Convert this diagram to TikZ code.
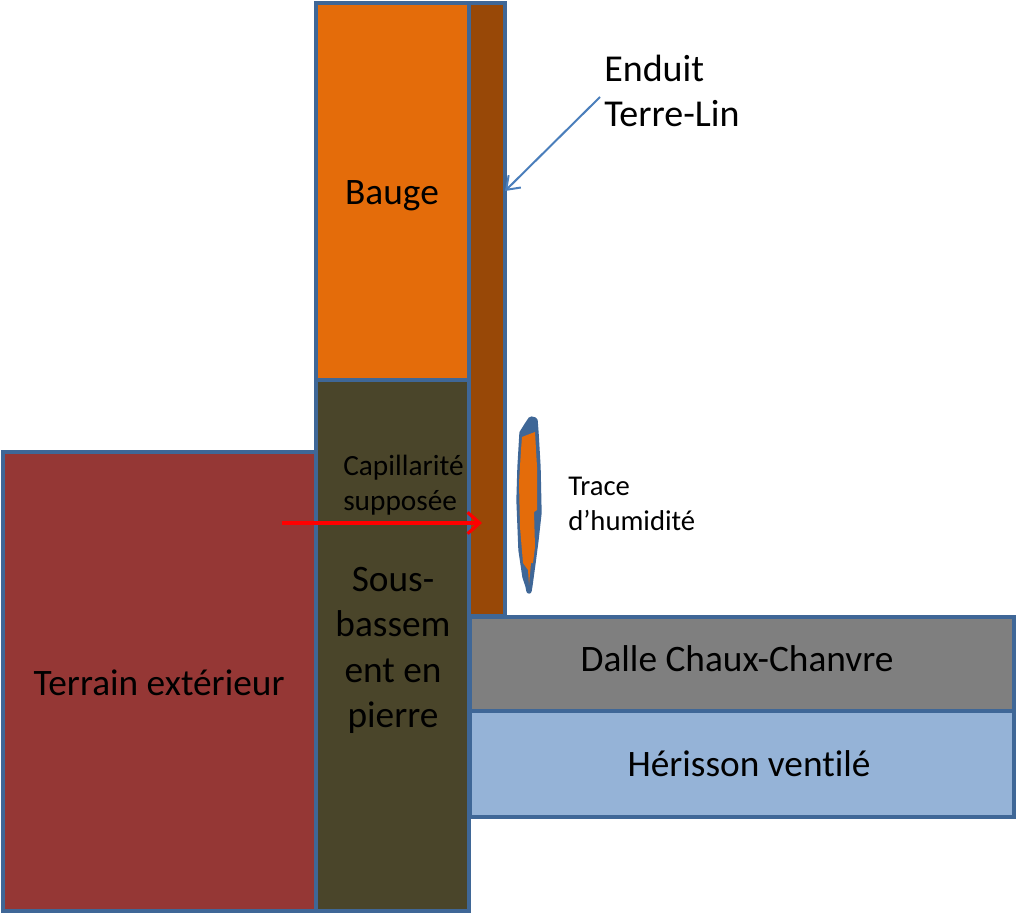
\documentclass[tikz,border=0pt]{standalone}
\usepackage{fontspec}
\setmainfont[RawFeature={-liga}]{Carlito}
\usetikzlibrary{arrows.meta}
\definecolor{edge}{HTML}{3F6797}
\definecolor{bauge}{HTML}{E46C0A}
\definecolor{enduit}{HTML}{984807}
\definecolor{terrain}{HTML}{953735}
\definecolor{pierre}{HTML}{4A452A}
\definecolor{dalle}{HTML}{7F7F7F}
\definecolor{herisson}{HTML}{95B3D7}
\definecolor{calloutline}{HTML}{4A7EBB}
\tikzset{
  x=0.75pt,y=-0.75pt,
  block/.style={draw=edge,line width=2.6pt,line join=miter},
  big/.style={font=\fontsize{28}{34}\selectfont,align=center,text=black,inner sep=0pt},
  small/.style={font=\fontsize{21.5}{26.25}\selectfont,align=left,text=black,inner sep=0pt},
  smallwide/.style={font=\fontsize{22}{26.25}\selectfont,align=left,text=black,inner sep=0pt},
  callout/.style={font=\fontsize{28.5}{34}\selectfont,align=left,text=black,inner sep=0pt},
}
\begin{document}
\begin{tikzpicture}
\useasboundingbox (0,0) rectangle (1016,915);
\fill[white] (0,0) rectangle (1016,915);
% blocks
\draw[block,fill=enduit] (469,3) rectangle (505,616);
\draw[block,fill=bauge] (316,3) rectangle (469,380);
\draw[block,fill=terrain] (3,452) rectangle (316,911);
\draw[block,fill=pierre] (316,380) rectangle (469,911);
\draw[block,fill=dalle] (470,617) rectangle (1014,711);
\draw[block,fill=herisson] (470,711) rectangle (1014,817);
% stain
\draw[draw=edge,fill=edge,line width=4pt,line join=round,line cap=round] (531,419) -- (535,420) -- (536,433) -- (538,467) -- (539,513) -- (536,540)
 -- (533,563) -- (530,585) -- (529,591) -- (528,586) -- (525,577) -- (521,550) -- (519,500) -- (520,467)
 -- (522,433) -- (527,425) -- cycle;
\fill[bauge] (527,435) -- (535,432) -- (537,467) -- (537,510) -- (534,512) -- (535,547) -- (533,563)
 -- (531,563) -- (529,585) -- (528,570) -- (523,563) -- (520,527) -- (519,483) -- (521,450) -- (522,437) -- cycle;
% labels
\node[big] (b) at (392,196) {Bauge};
\node[big] (t) at (159,683) {Terrain extérieur};
\node[big] (s) at (393,650.5) {Sous-\\bassem\\ent en\\pierre};
\node[big] (d) at (737,659) {Dalle Chaux-Chanvre};
\node[big] (h) at (749,764) {Hérisson ventilé};
\node[smallwide,anchor=west] (c) at (343,485) {Capillarité\\supposée};
\node[small,anchor=west] (r) at (568,504) {Trace\\d’humidité};
\node[callout,anchor=west] (e) at (604,91) {Enduit\\Terre-Lin};
% connectors
\coordinate (ca) at (600,97);
\coordinate (cb) at (505,191);
\draw[draw=calloutline,line width=1.5pt,-{Straight Barb[length=9pt,width=13pt,line width=1.5pt]}] (ca) -- (cb);
\coordinate (ra) at (282,523);
\coordinate (rb) at (482,523);
\draw[draw=red,line width=2.4pt,-{Straight Barb[length=9pt,width=16pt,line width=2.4pt]}] (ra) -- (rb);
\end{tikzpicture}
\end{document}
